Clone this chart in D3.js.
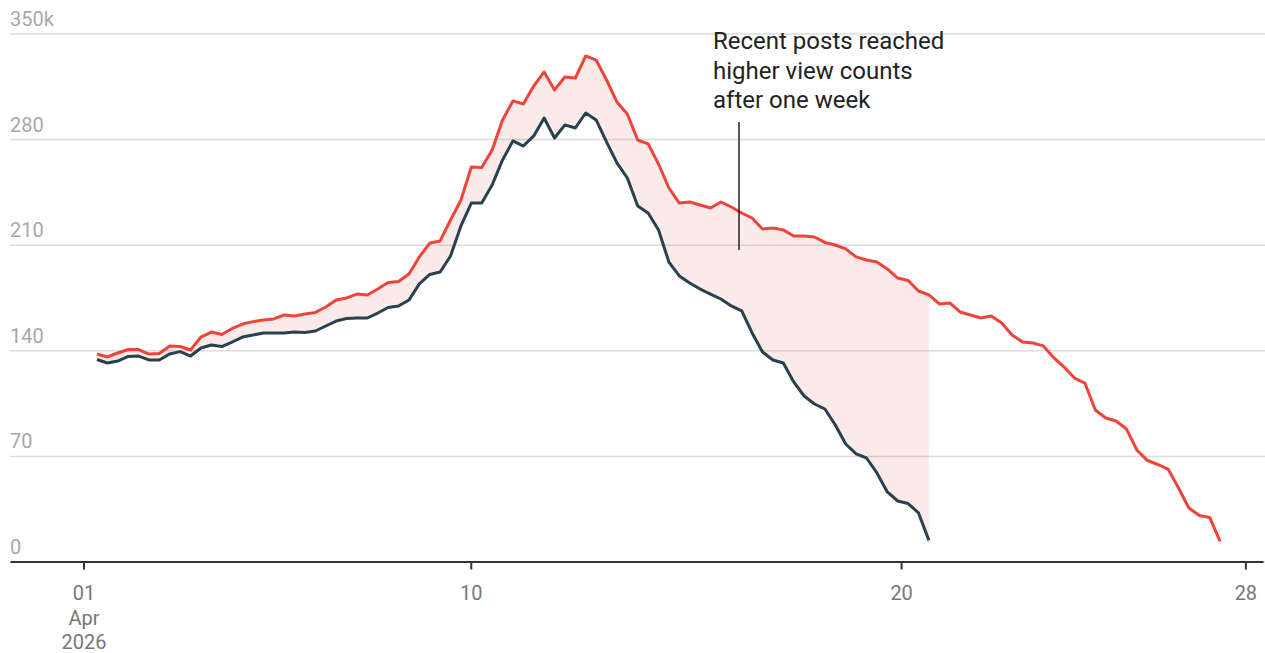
<!DOCTYPE html>
<html>
<head>
<meta charset="utf-8">
<script src="https://cdn.jsdelivr.net/npm/d3@7"></script>
<style>
  body { margin: 0; background: #fff; }
  svg { display: block; font-family: Roboto, "Noto Sans", sans-serif; }
</style>
</head>
<body>
<div id="chart"></div>
<script>
// sampling of both series: hours after 1 Apr 2026 00:00 UTC
var firstHour = 7.5;
var stepHours = 5.8;

// views (thousands) for recent posts
var recentViews = [
  137.5, 135.6, 138.2, 140.5, 140.5, 137.5, 137.9, 142.9, 142.5, 140.2,
  148.8, 152.1, 150.5, 154.5, 157.4, 159.0, 160.1, 160.8, 163.4, 162.7,
  164.1, 165.1, 168.7, 173.3, 174.7, 177.3, 176.7, 180.6, 184.9, 185.6,
  190.6, 201.9, 211.1, 212.5, 226.4, 239.6, 261.5, 261.2, 272.8, 292.7,
  305.3, 303.3, 315.2, 324.5, 312.6, 321.2, 320.5, 335.1, 332.4, 319.2,
  304.6, 296.6, 279.4, 276.8, 263.5, 247.6, 237.6, 238.3, 236.3, 234.3,
  238.3, 235.0, 231.0, 227.7, 220.4, 221.1, 219.8, 215.8, 215.8, 215.1,
  211.5, 209.8, 207.2, 201.9, 199.9, 198.5, 193.9, 187.9, 186.3, 179.3,
  176.7, 170.7, 171.4, 165.4, 163.4, 161.4, 162.7, 158.1, 150.1, 145.5,
  144.8, 142.9, 135.2, 128.9, 121.6, 118.3, 100.4, 95.1, 93.1, 87.8,
  73.9, 67.0, 64.3, 61.3, 48.7, 35.5, 30.5, 29.2, 13.3
];

// views (thousands) for earlier posts
var earlierViews = [
  133.9, 131.6, 132.9, 135.9, 136.2, 133.6, 133.6, 137.6, 139.1, 136.2,
  141.5, 143.5, 142.5, 145.5, 148.8, 150.1, 151.5, 151.5, 151.5, 152.1,
  151.8, 152.8, 156.1, 159.4, 161.1, 161.4, 161.4, 164.7, 168.4, 169.4,
  173.3, 184.0, 190.3, 191.9, 202.5, 222.4, 237.6, 237.6, 249.6, 266.2,
  278.8, 275.4, 282.1, 294.0, 280.7, 289.4, 287.4, 297.3, 292.7, 278.1,
  264.2, 254.2, 235.7, 231.0, 219.8, 198.5, 189.3, 184.6, 180.6, 177.3,
  174.0, 169.4, 166.1, 151.5, 138.9, 133.6, 131.6, 119.0, 109.7, 104.4,
  101.1, 90.5, 77.9, 71.3, 68.6, 58.7, 46.1, 40.1, 38.4, 32.2,
  14.0
];

var yTicks = [0, 70, 140, 210, 280, 350];
var xTickDates = ["2026-04-01", "2026-04-10", "2026-04-20", "2026-04-28"];
var annotationLines = ["Recent posts reached", "higher view counts", "after one week"];

var width = 1265, height = 653;
var start = Date.UTC(2026, 3, 1);

function timeAt(i) {
    return new Date(start + (firstHour + i * stepHours) * 3600 * 1000);
}

var recent = recentViews.map(function (v, i) { return {date: timeAt(i), value: v}; });
var earlier = earlierViews.map(function (v, i) { return {date: timeAt(i), value: v}; });
var band = earlier.map(function (d, i) { return {date: d.date, lo: d.value, hi: recentViews[i]}; });

const svg = d3.select("#chart")
    .append("svg")
    .attr("width", width)
    .attr("height", height);

var x = d3.scaleUtc()
    .domain([new Date(Date.UTC(2026, 2, 30, 7, 0)), new Date(Date.UTC(2026, 3, 28, 9, 50))])
    .range([10, 1263]);

var y = d3.scaleLinear()
    .domain([0, 350])
    .range([561.5, 33.5]);

// grid + y labels
var yAxis = svg.append("g")
    .attr("transform", "translate(10,0)")
    .call(d3.axisRight(y)
        .tickValues(yTicks)
        .tickSize(1255)
        .tickFormat(function (d) { return d === 350 ? "350k" : d; }));
yAxis.select(".domain").remove();
yAxis.selectAll(".tick line")
    .attr("stroke", "#dcdcdc")
    .attr("stroke-width", 1.5);
yAxis.selectAll(".tick text")
    .attr("x", 0)
    .attr("dy", -8)
    .attr("text-anchor", "start")
    .attr("fill", "#a8a8a8")
    .style("font-size", "20px")
    .style("font-family", "Roboto, sans-serif");

// shaded gap between the two series
svg.append("path")
    .datum(band)
    .attr("fill", "#d9534f")
    .attr("fill-opacity", 0.12)
    .attr("d", d3.area()
        .x(function (d) { return x(d.date); })
        .y0(function (d) { return y(d.lo); })
        .y1(function (d) { return y(d.hi); }));

var line = d3.line()
    .x(function (d) { return x(d.date); })
    .y(function (d) { return y(d.value); });

svg.append("path")
    .datum(earlier)
    .attr("fill", "none")
    .attr("stroke", "#29414f")
    .attr("stroke-width", 3)
    .attr("stroke-linejoin", "round")
    .attr("d", line);

svg.append("path")
    .datum(recent)
    .attr("fill", "none")
    .attr("stroke", "#f0433a")
    .attr("stroke-width", 3)
    .attr("stroke-linejoin", "round")
    .attr("d", line);

// x axis
var xAxis = svg.append("g")
    .attr("transform", "translate(0,561.5)")
    .call(d3.axisBottom(x)
        .tickValues(xTickDates.map(function (s) { return new Date(s + "T00:00:00Z"); }))
        .tickSize(8)
        .tickSizeOuter(0)
        .tickFormat(d3.utcFormat("%d")));
xAxis.select(".domain")
    .attr("stroke", "#333")
    .attr("stroke-width", 2);
xAxis.selectAll(".tick line")
    .attr("stroke", "#333")
    .attr("stroke-width", 2);
xAxis.selectAll(".tick text")
    .attr("y", 38)
    .attr("dy", 0)
    .attr("fill", "#777")
    .style("font-size", "20px")
    .style("font-family", "Roboto, sans-serif");
xAxis.selectAll(".tick").filter(function (d, i) { return i === 0; })
    .each(function () {
        var t = d3.select(this).select("text");
        t.append("tspan").attr("x", 0).attr("dy", 25).text("Apr");
        t.append("tspan").attr("x", 0).attr("dy", 24.5).text("2026");
    });

// annotation
svg.append("line")
    .attr("x1", 739).attr("x2", 739)
    .attr("y1", 122).attr("y2", 250)
    .attr("stroke", "#222")
    .attr("stroke-width", 1.5);

svg.append("text")
    .attr("x", 713)
    .attr("y", 49)
    .attr("fill", "#222")
    .style("font-size", "24px")
    .selectAll("tspan")
    .data(annotationLines)
    .join("tspan")
    .attr("x", 713)
    .attr("dy", function (d, i) { return i === 0 ? 0 : 29.5; })
    .text(function (d) { return d; });
</script>
</body>
</html>
